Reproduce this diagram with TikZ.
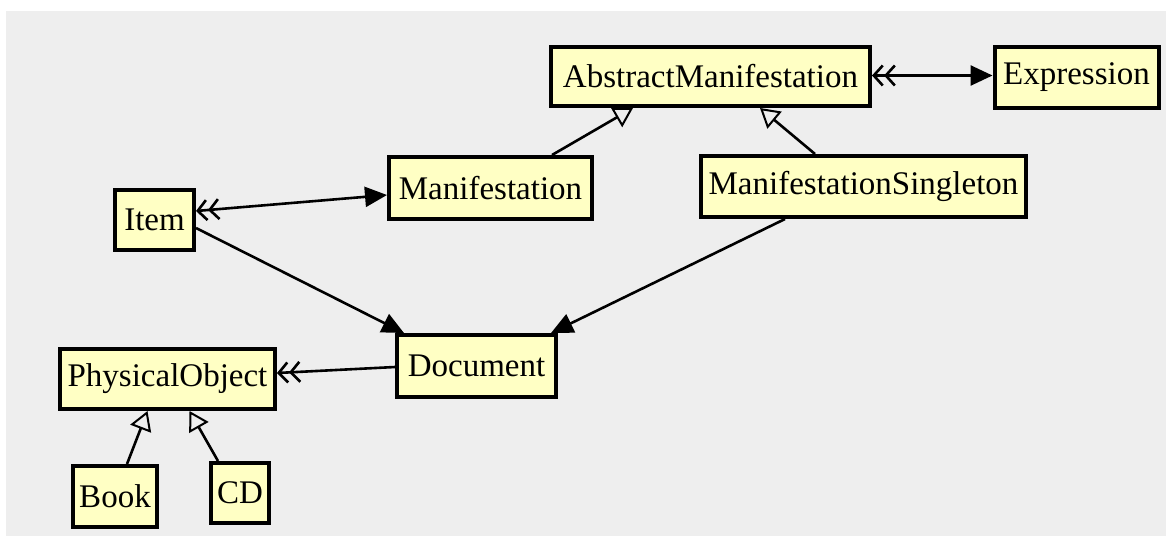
\documentclass[tikz,border=0pt]{standalone}
\usepackage{fontspec}
\setmainfont{Liberation Serif}
\usetikzlibrary{arrows.meta}
\definecolor{canvasgray}{HTML}{EEEEEE}
\definecolor{clsfill}{HTML}{FFFFC4}
\begin{document}
\begin{tikzpicture}[x=1pt,y=-1pt,
  cls/.style={draw=black, line width=4pt, fill=clsfill, inner sep=0pt,
    font=\fontsize{33}{36}\selectfont},
  link/.style={line width=2.6pt, line join=miter},
  gen/.style={link, arrows={-Triangle[open,length=19pt,width=22pt,line width=2pt]}},
  nav/.style={link, arrows={-Triangle[length=22pt,width=20pt]}},
  agg/.style={link, arrows={-Straight Barb[length=9pt,width=20pt]Straight Barb[length=9pt,width=20pt]}},
  biassoc/.style={link, arrows={Straight Barb[length=9pt,width=20pt]Straight Barb[length=9pt,width=20pt]-Triangle[length=22pt,width=20pt]}}]
% canvas
\fill[white] (0,0) rectangle (1166,536);
\fill[canvasgray] (6,11) rectangle (1166,536);
\useasboundingbox (0,0) rectangle (1166,536);

% classes
\node[cls, minimum width=319pt, minimum height=59pt] (am) at (710.5,76.5) {AbstractManifestation};
\node[cls, minimum width=164pt, minimum height=61pt] (expr) at (1076.5,77.5) {Expression};
\node[cls, minimum width=203pt, minimum height=62pt] (manif) at (490.5,188) {Manifestation};
\node[cls, minimum width=325pt, minimum height=61pt] (ms) at (863.5,186.5) {ManifestationSingleton};
\node[cls, minimum width=79pt, minimum height=60pt] (item) at (154.5,220) {Item};
\node[cls, minimum width=159pt, minimum height=62pt] (doc) at (476.5,366) {Document};
\node[cls, minimum width=215pt, minimum height=60pt] (po) at (167.5,379) {PhysicalObject};
\node[cls, minimum width=84pt, minimum height=61pt] (book) at (115,496.5) {Book};
\node[cls, minimum width=58pt, minimum height=60pt] (cd) at (240,493) {CD};

% generalisations
\draw[gen] ([xshift=61.5pt]manif.north) -- ([xshift=-77.5pt]am.south);
\draw[gen] ([xshift=-48.5pt]ms.north) -- ([xshift=49.5pt]am.south);
\draw[gen] ([xshift=12pt]book.north) -- ([xshift=-20pt]po.south);
\draw[gen] ([xshift=-22pt]cd.north) -- ([xshift=22pt]po.south);

% associations
\draw[biassoc] ([yshift=1pt]am.east) -- ([yshift=2pt]expr.west);
\draw[biassoc] ([yshift=9pt]item.east) -- ([yshift=-7pt]manif.west);
\draw[nav] ([yshift=-8pt]item.east) -- ([xshift=9pt]doc.north west);
\draw[nav] ([xshift=-78.5pt]ms.south) -- ([xshift=-7pt]doc.north east);
\draw[agg] ([yshift=-1pt]doc.west) -- ([yshift=6pt]po.east);
\end{tikzpicture}
\end{document}
